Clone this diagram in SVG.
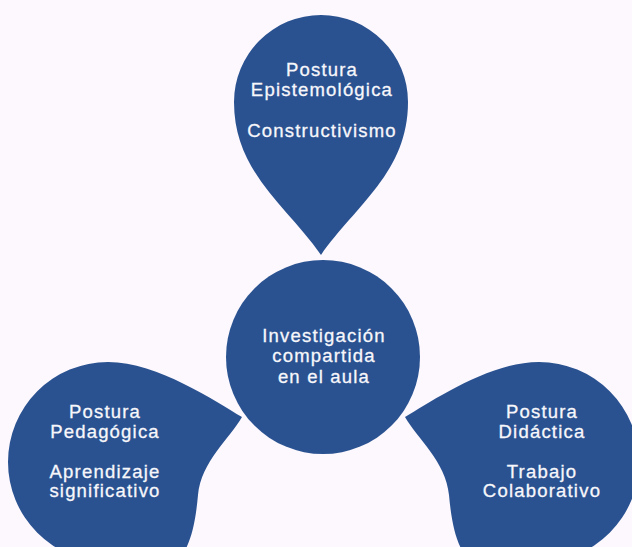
<svg xmlns="http://www.w3.org/2000/svg" width="632" height="547" viewBox="0 0 632 547">
  <style>
    .shape { fill: #2a5291; }
    .lbl { fill: #f7f7fb; stroke: #f7f7fb; stroke-width: 0.3px; font-family: "Liberation Sans", Arial, sans-serif; font-size: 18.5px; letter-spacing: 1.2px; text-anchor: middle; }
  </style>
  <rect x="0" y="0" width="632" height="547" fill="#fcf8fd"/>
  <g id="connectors"></g>
  <g id="node-epistemologica">
    <path class="shape" d="M 234,102 A 87 87 0 0 1 408,102 C 408,172 356,205 321,255 C 286,205 234,172 234,102 Z"/>
    <text class="lbl" x="322" y="75.7">Postura</text>
    <text class="lbl" x="322" y="95.5">Epistemológica</text>
    <text class="lbl" x="322" y="136.5">Constructivismo</text>
  </g>
  <g id="node-investigacion">
    <circle class="shape" cx="323" cy="357" r="97"/>
    <text class="lbl" x="324" y="341.5">Investigación</text>
    <text class="lbl" x="324" y="362">compartida</text>
    <text class="lbl" x="324" y="383">en el aula</text>
  </g>
  <g id="node-pedagogica">
    <path class="shape" d="M 108,362 C 158,362 216,402 242,417 C 230,438 201,462 198,495 C 195,528 190,545 178,562 L 108,562 A 100 100 0 0 1 8,462 A 100 100 0 0 1 108,362 Z"/>
    <text class="lbl" x="105" y="418">Postura</text>
    <text class="lbl" x="105" y="437.5">Pedagógica</text>
    <text class="lbl" x="105" y="478">Aprendizaje</text>
    <text class="lbl" x="105" y="497">significativo</text>
  </g>
  <g id="node-didactica">
    <path class="shape" d="M 539,362 C 489,362 431,402 405,417 C 417,438 446,462 449,495 C 452,528 457,545 469,562 L 539,562 A 100 100 0 0 0 639,462 A 100 100 0 0 0 539,362 Z"/>
    <text class="lbl" x="542" y="418">Postura</text>
    <text class="lbl" x="542" y="437.5">Didáctica</text>
    <text class="lbl" x="542" y="478">Trabajo</text>
    <text class="lbl" x="542" y="497">Colaborativo</text>
  </g>
</svg>
